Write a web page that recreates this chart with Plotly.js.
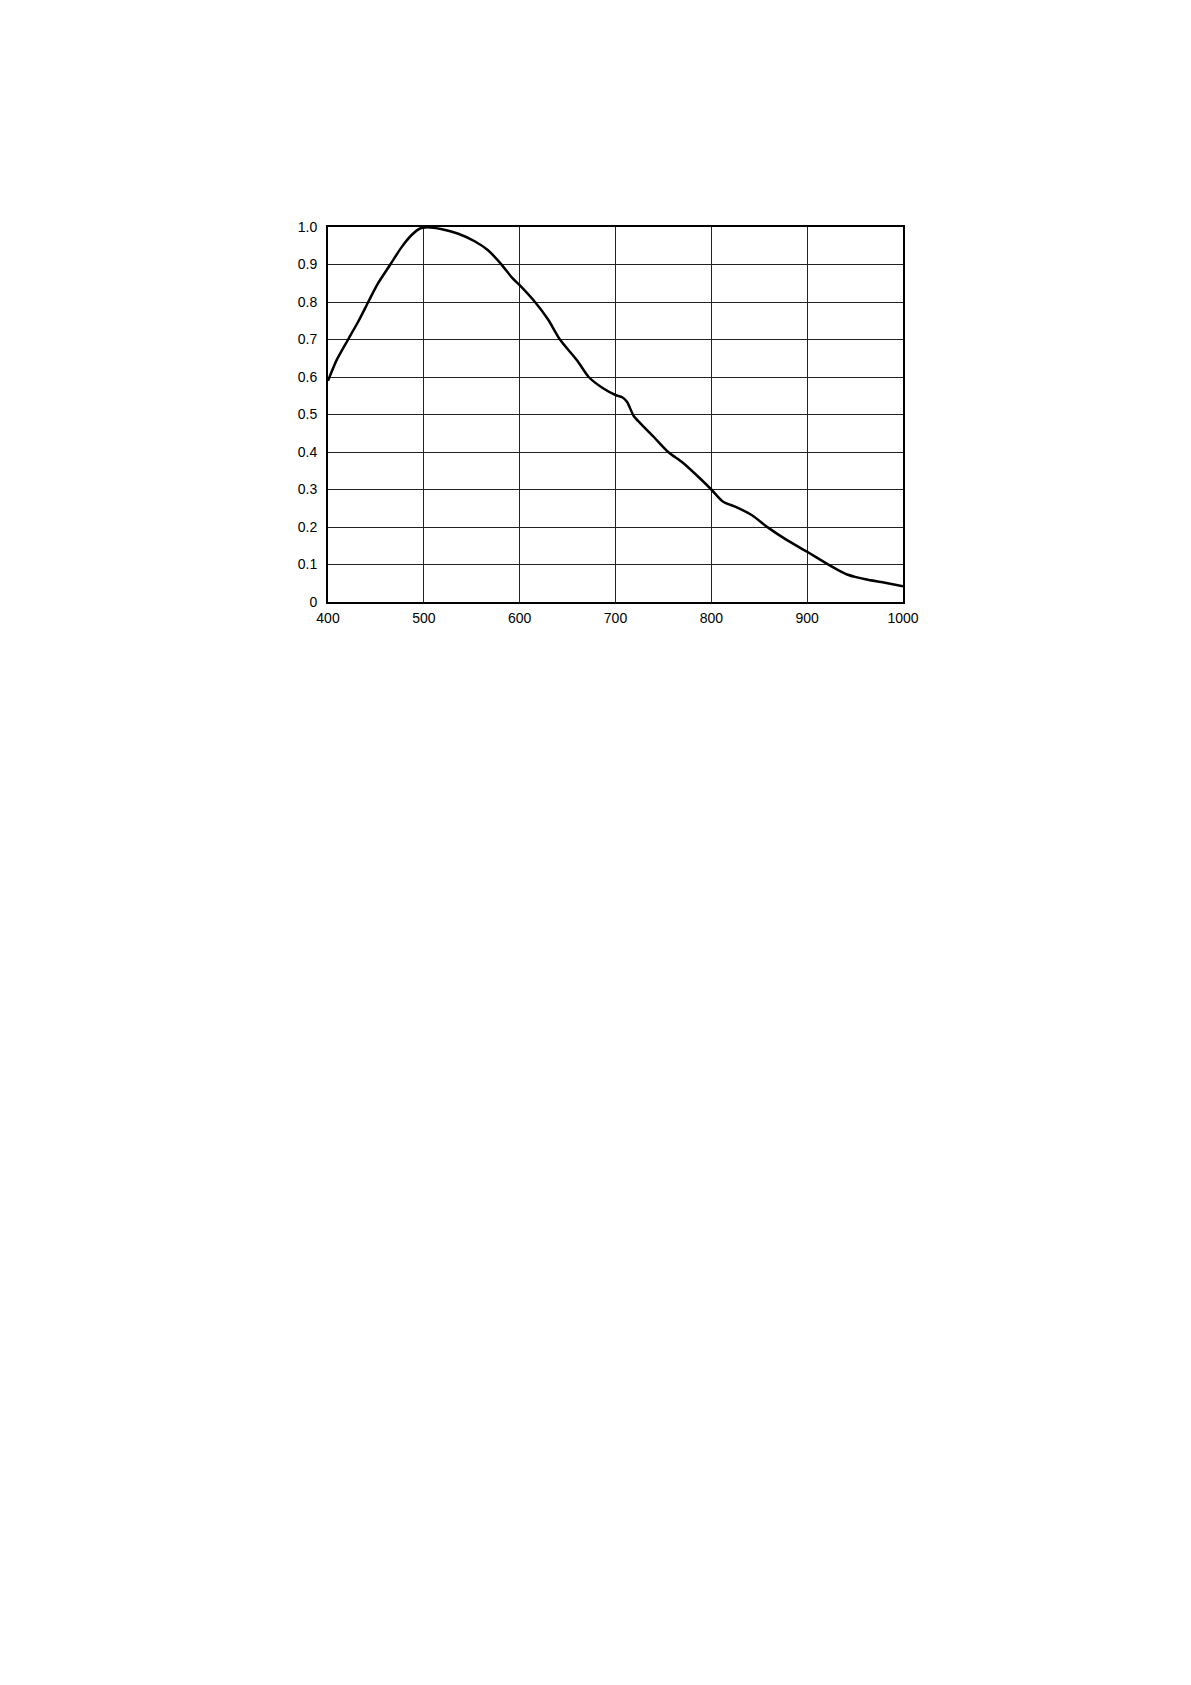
<!DOCTYPE html>
<html>
<head>
<meta charset="utf-8">
<script src="https://cdn.plot.ly/plotly-3.0.1.min.js"></script>
<style>html,body{margin:0;padding:0;background:#fff;}#chart{width:1191px;height:1685px;}</style>
</head>
<body>
<div id="chart"></div>
<script>
// Wavelength (nm)
const wavelength = [400, 409, 421, 432, 442, 452, 465, 477, 487, 496, 502, 519, 536, 553, 567, 580, 592, 600, 616, 630, 642, 660, 672, 687, 700, 707, 712, 719, 726, 740, 755, 770, 788, 800, 812, 826, 842, 860, 879, 900, 920, 931, 941, 950, 962, 980, 1000];
// Relative response
const response = [0.59, 0.645, 0.70, 0.75, 0.80, 0.849, 0.90, 0.947, 0.978, 0.996, 0.999, 0.994, 0.982, 0.962, 0.938, 0.903, 0.865, 0.845, 0.80, 0.752, 0.70, 0.644, 0.60, 0.570, 0.552, 0.546, 0.534, 0.496, 0.4765, 0.44, 0.40, 0.372, 0.33, 0.30, 0.268, 0.253, 0.232, 0.197, 0.165, 0.134, 0.103, 0.087, 0.074, 0.067, 0.060, 0.052, 0.042];
const xTicks = [400, 500, 600, 700, 800, 900, 1000];
const xTickText = ['400', '500', '600', '700', '800', '900', '1000'];
const yTicks = [0, 0.1, 0.2, 0.3, 0.4, 0.5, 0.6, 0.7, 0.8, 0.9, 1.0];
const yTickText = ['0', '0.1', '0.2', '0.3', '0.4', '0.5', '0.6', '0.7', '0.8', '0.9', '1.0'];

const trace = {
  x: wavelength,
  y: response,
  type: 'scatter',
  mode: 'lines',
  line: {color: '#000', width: 2.5, shape: 'spline', smoothing: 0.7},
  hoverinfo: 'x+y'
};

const layout = {
  width: 1191,
  height: 1685,
  margin: {l: 328, r: 288, t: 227, b: 1083, pad: 0},
  paper_bgcolor: '#fff',
  plot_bgcolor: '#fff',
  showlegend: false,
  font: {family: 'Liberation Sans, Arial, sans-serif', size: 14, color: '#000'},
  xaxis: {
    range: [400, 1000],
    tickvals: xTicks,
    ticktext: xTickText,
    showgrid: true,
    gridcolor: '#222',
    gridwidth: 1,
    zeroline: false,
    showline: true,
    linecolor: '#000',
    linewidth: 2,
    mirror: true,
    ticks: '',
    ticklabelstandoff: 2,
    tickfont: {family: 'Liberation Sans, Arial, sans-serif', size: 14, color: '#000'},
    fixedrange: true
  },
  yaxis: {
    range: [0, 1.0],
    tickvals: yTicks,
    ticktext: yTickText,
    showgrid: true,
    gridcolor: '#222',
    gridwidth: 1,
    zeroline: false,
    showline: true,
    linecolor: '#000',
    linewidth: 2,
    mirror: true,
    ticks: '',
    ticklabelstandoff: 6,
    tickfont: {family: 'Liberation Sans, Arial, sans-serif', size: 14, color: '#000'},
    fixedrange: true
  }
};

Plotly.newPlot('chart', [trace], layout, {displayModeBar: false, staticPlot: true});
</script>
</body>
</html>
